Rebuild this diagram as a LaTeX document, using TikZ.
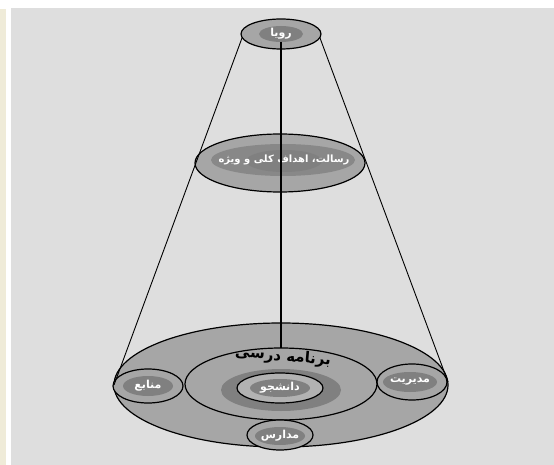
\documentclass[tikz,border=0pt]{standalone}
\usepackage{fontspec}
\newfontfamily\arabicfont[Script=Arabic]{DejaVu Sans}
\TeXXeTstate=1
\definecolor{bggray}{HTML}{DEDEDE}
\definecolor{beige}{HTML}{EFEBD8}
\definecolor{midgray}{HTML}{A6A6A6}
\definecolor{darkgray}{HTML}{808080}
\definecolor{lightgray}{HTML}{B2B2B2}
\begin{document}
\begin{tikzpicture}[x=1pt,y=-1pt,
  outline/.style={draw=black,line width=1.2pt},
  wlabel/.style={text=white,font=\arabicfont\bfseries\fontsize{11}{12}\selectfont,inner sep=0pt},
  connector/.style={draw=black,line width=0.9pt}]
\useasboundingbox (0,0) rectangle (554,465);
\fill[white] (0,0) rectangle (554,465);
\fill[beige] (0,9) rectangle (6,465);
\fill[bggray] (11,8) rectangle (554,465);

% bottom base
\fill[midgray,outline] (281,385) ellipse [x radius=167,y radius=62];
\node[coordinate] (baseL) at (114,385) {};
\node[coordinate] (baseR) at (448,382) {};
% curriculum ellipse
\fill[midgray,outline] (281,384) ellipse [x radius=96,y radius=36];
\node[coordinate] (currTop) at (281,348) {};
\fill[darkgray] (281,390) ellipse [x radius=60,y radius=21];
\fill[lightgray,outline] (280,388) ellipse [x radius=43,y radius=15];
\fill[darkgray] (280,388) ellipse [x radius=30,y radius=9];
\node[wlabel] (student) at (280,388) {\beginR دانشجو\endR};
\node[font=\arabicfont\bfseries\fontsize{15}{16}\selectfont,inner sep=0pt,rotate=-5] (curr) at (283,357) {\beginR برنامه درسی\endR};

% satellites
\fill[midgray,outline] (148,386) ellipse [x radius=35,y radius=17];
\fill[darkgray] (148,386) ellipse [x radius=25,y radius=10];
\node[wlabel] (res) at (148,386) {\beginR منابع\endR};

\fill[midgray,outline] (412,382) ellipse [x radius=35,y radius=18];
\fill[darkgray] (410,382) ellipse [x radius=27,y radius=10];
\node[wlabel] (man) at (410,382) {\beginR مدیریت\endR};

\fill[midgray,outline] (280,435) ellipse [x radius=33,y radius=15];
\fill[darkgray] (280,436) ellipse [x radius=25,y radius=9];
\node[wlabel] (sch) at (280,436) {\beginR مدارس\endR};

% middle ellipse
\fill[midgray,outline] (280,163) ellipse [x radius=85,y radius=29];
\fill[darkgray!80!midgray] (283,160) ellipse [x radius=72,y radius=16];
\fill[darkgray] (284,161) ellipse [x radius=38,y radius=11];
\node[wlabel,font=\arabicfont\bfseries\fontsize{10}{11}\selectfont] (mission) at (284,160) {\beginR رسالت، اهداف کلی و ویژه\endR};

% top ellipse
\fill[midgray,outline] (281,34) ellipse [x radius=40,y radius=15];
\fill[darkgray] (281,34) ellipse [x radius=22,y radius=8];
\node[wlabel] (vision) at (281,34) {\beginR رویا\endR};
\node[coordinate] (topL) at (242,38) {};
\node[coordinate] (topR) at (320,38) {};
\node[coordinate] (topC) at (281,42) {};

% connectors
\draw[connector] (topL) -- (baseL);
\draw[connector] (topR) -- (baseR);
\draw[connector,line width=1.1pt] (topC) -- (currTop);
\end{tikzpicture}
\end{document}
